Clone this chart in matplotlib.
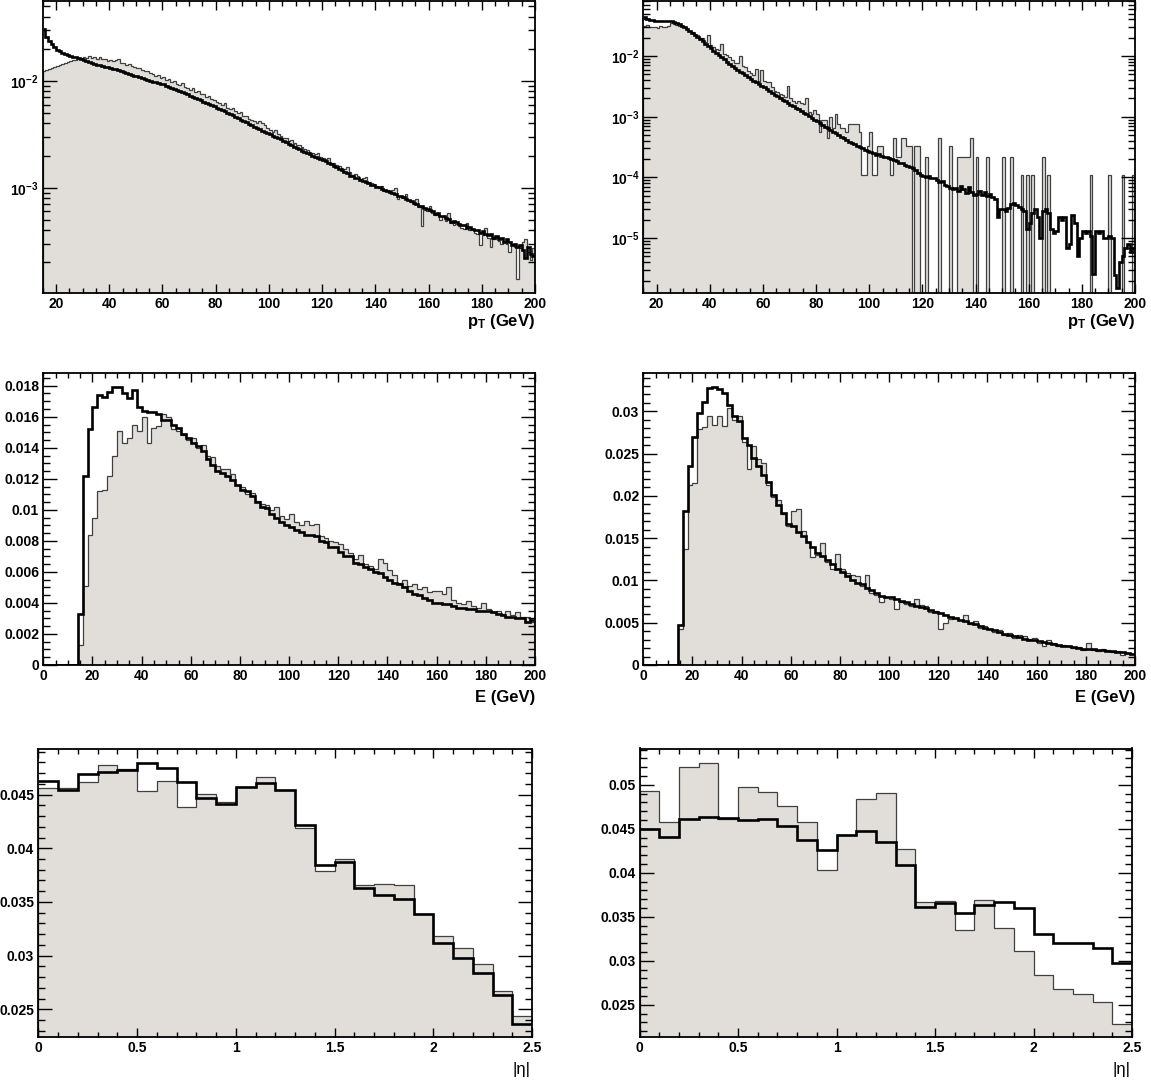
import numpy as np
import matplotlib
matplotlib.use('Agg')
import matplotlib.pyplot as plt
from matplotlib.ticker import MultipleLocator, LogLocator, FuncFormatter, NullFormatter

plt.rcParams['font.family'] = ['Liberation Sans', 'DejaVu Sans']
plt.rcParams['font.weight'] = 'bold'
plt.rcParams['mathtext.fontset'] = 'custom'
plt.rcParams['mathtext.rm'] = 'Liberation Sans:bold'
plt.rcParams['mathtext.bf'] = 'Liberation Sans:bold'
plt.rcParams['mathtext.it'] = 'Liberation Sans:bold'

# ---------------- data ----------------
PT_RANGE = (15, 200)      # 1 GeV bins
E_RANGE = (0, 200)        # 2 GeV bins
ETA_RANGE = (0.0, 2.5)    # 0.1 bins

# top-left, units of 1e-5
TL_THICK = [3050, 2600, 2380, 2200, 2070, 1950, 1890, 1830, 1790, 1750,
            1720, 1690, 1660, 1630, 1600, 1570, 1540, 1510, 1480, 1450,
            1420, 1400, 1380, 1360, 1340, 1320, 1300, 1280, 1260, 1240,
            1220, 1195, 1170, 1145, 1120, 1100, 1080, 1060, 1040, 1020,
            1000, 985, 970, 955, 940, 930, 905, 885, 860, 840,
            820, 800, 785, 765, 748, 730, 712, 693, 675, 657,
            640, 624, 608, 592, 576, 560, 546, 532, 518, 504,
            490, 476, 462, 448, 434, 420, 408, 396, 384, 372,
            360, 351, 342, 333, 324, 315, 307, 299, 291, 283,
            275, 267, 259, 251, 243, 235, 229, 223, 217, 211,
            205, 200, 195, 190, 185, 180, 176, 170, 166, 160,
            155, 151, 145, 140, 136, 130, 129, 124, 122, 118,
            115, 114, 110, 107, 105, 102, 101, 97, 96, 93,
            92, 89, 88, 84, 83, 82, 79, 76, 75, 72,
            71, 68, 67, 64, 63, 62, 61, 57, 58, 54,
            54, 52, 51, 48, 49, 48, 46, 45, 45, 42,
            43, 41, 40, 40, 38, 39, 37, 36, 37, 34,
            35, 33, 34, 31, 33, 31, 29, 30, 28, 29,
            26, 22, 28, 24, 23]
TL_THIN = [1240, 1270, 1300, 1330, 1360, 1390, 1420, 1450, 1480, 1510,
           1530, 1560, 1580, 1610, 1640, 1670, 1640, 1700, 1650, 1680,
           1620, 1660, 1600, 1620, 1540, 1580, 1520, 1560, 1620, 1480,
           1460, 1420, 1430, 1370, 1340, 1320, 1330, 1260, 1240, 1230,
           1180, 1170, 1110, 1130, 1060, 1080, 1030, 1040, 970, 990,
           940, 925, 950, 870, 860, 830, 850, 780, 800, 750,
           760, 700, 720, 670, 660, 640, 620, 600, 615, 560,
           550, 555, 520, 505, 510, 470, 465, 440, 435, 420,
           400, 420, 405, 385, 360, 350, 335, 345, 318, 305,
           290, 295, 272, 278, 262, 250, 252, 238, 232, 224,
           218, 212, 205, 210, 196, 188, 182, 190, 172, 170,
           162, 158, 152, 150, 155, 140, 132, 135, 128, 120,
           122, 126, 112, 110, 108, 104, 100, 103, 94, 96,
           90, 95, 99, 78, 84, 80, 87, 76, 74, 70,
           78, 66, 44, 62, 60, 68, 58, 55, 57, 50,
           54, 49, 58, 47, 45, 46, 44, 42, 41, 47,
           40, 41, 38, 37, 29, 36, 42, 34, 28, 33,
           34, 32, 30, 31, 30, 25, 30, 28, 14, 27,
           31, 33, 25, 21, 27]

# top-right, units of 1e-6
TR_THICK = [44500, 41500, 39500, 38600, 38200, 38000, 38000, 37900, 37900, 37800,
            37500, 36800, 35500, 33800, 31800, 29800, 27800, 25900, 24000, 22200,
            20500, 18900, 17400, 16000, 14700, 13500, 12300, 11300, 10400, 9600,
            8800, 8100, 7500, 6900, 6400, 5950, 5550, 5200, 4850, 4550,
            4250, 3950, 3700, 3450, 3250, 3050, 2850, 2650, 2480, 2320,
            2180, 2040, 1910, 1790, 1680, 1580, 1490, 1400, 1320, 1240,
            1160, 1090, 1020, 960, 900, 850, 790, 740, 690, 650,
            610, 570, 530, 500, 470, 440, 420, 390, 370, 350,
            335, 318, 300, 285, 270, 258, 248, 238, 240, 228,
            220, 215, 205, 200, 190, 185, 175, 170, 160, 152,
            148, 142, 135, 118, 108, 104, 100, 106, 96, 98,
            90, 84, 88, 76, 72, 66, 64, 68, 60, 72,
            65, 56, 70, 58, 52, 54, 60, 52, 58, 50,
            54, 48, 44, 22, 30, 30, 28, 31, 36, 38,
            35, 32, 30, 28, 14, 18, 26, 30, 22, 10,
            28, 30, 26, 14, 12, 13, 22, 20, 22, 7,
            8, 24, 18, 5, 10, 13, 12, 13, 11, 2.6,
            13, 12, 13, 10, 10, 11, 10, 2.5, 1.5, 4,
            5, 7, 8, 6, 7]
TR_THIN = [31000, 32000, 30000, 30500, 30000, 29500, 31500, 30500, 30000, 31000,
           34500, 33500, 32500, 31500, 31000, 30000, 28000, 26000, 24500, 23000,
           22500, 20000, 19500, 17000, 22000, 15000, 14000, 13000, 12500, 16000,
           11000, 10500, 9500, 8500, 7800, 7800, 10000, 6800, 6500, 5600,
           5200, 4800, 6200, 3400, 5800, 3900, 3800, 3800, 3100, 2700,
           2600, 2400, 2300, 2100, 3200, 2000, 1800, 1700, 1800, 1700,
           1600, 2000, 1200, 1100, 1300, 1100, 550, 880, 880, 440,
           990, 660, 1100, 770, 660, 660, 550, 770, 770, 770,
           770, 550, 110, 110, 330, 550, 110, 110, 330, 330,
           220, 220, 220, 110, 440, 220, 220, 440, 440, 330,
           330, 0, 330, 330, 0, 0, 220, 0, 0, 0,
           0, 440, 0, 0, 0, 330, 0, 0, 220, 220,
           220, 220, 220, 440, 0, 220, 0, 0, 0, 220,
           0, 0, 0, 0, 0, 220, 0, 0, 220, 0,
           0, 0, 110, 0, 110, 0, 110, 0, 0, 0,
           220, 0, 110, 0, 0, 0, 0, 0, 0, 0,
           0, 0, 0, 0, 0, 0, 0, 0, 110, 0,
           0, 0, 0, 0, 0, 110, 0, 0, 0, 0,
           110, 0, 0, 0, 110]

# middle row, units of 1e-3
ML_THICK = [0, 0, 0, 0, 0, 0, 0, 3.3, 12.2, 15.2,
            16.6, 17.4, 17.3, 17.6, 17.9, 17.9, 17.5, 17.2, 17.7, 16.6,
            16.4, 16.3, 16.3, 16.2, 15.8, 15.8, 15.5, 15.3, 14.9, 14.6,
            14.3, 14.1, 13.8, 13.3, 12.9, 12.5, 12.4, 12.2, 11.9, 11.6,
            11.3, 11.2, 10.9, 10.5, 10.2, 10.1, 9.7, 9.5, 9.2, 9.0,
            8.9, 8.7, 8.6, 8.4, 8.4, 8.3, 8.0, 7.9, 7.6, 7.6,
            7.3, 7.0, 7.0, 6.6, 6.5, 6.3, 6.2, 6.0, 5.9, 5.7,
            5.5, 5.3, 5.2, 5.0, 4.8, 4.6, 4.5, 4.3, 4.2, 4.0,
            4.0, 3.9, 3.9, 3.8, 3.7, 3.7, 3.6, 3.6, 3.5, 3.5,
            3.5, 3.4, 3.3, 3.2, 3.1, 3.1, 3.0, 3.0, 2.8, 2.9]
ML_THIN = [0, 0, 0, 0, 0, 0, 0, 1.3, 5.1, 8.4,
           9.5, 11.2, 11.3, 12.2, 13.5, 15.1, 14.3, 14.6, 15.5, 15.1,
           16.0, 14.3, 15.3, 15.4, 16.2, 16.0, 15.2, 15.1, 14.8, 14.5,
           14.6, 14.0, 14.2, 13.5, 13.4, 12.8, 12.6, 12.6, 12.3, 11.6,
           11.5, 11.0, 11.1, 10.6, 10.4, 10.3, 10.0, 10.2, 9.6, 9.4,
           9.7, 9.2, 9.0, 9.3, 9.0, 9.1, 8.3, 8.2, 8.0, 7.9,
           7.8, 7.5, 7.2, 6.8, 7.1, 6.5, 6.4, 6.2, 6.8, 6.6,
           6.1, 5.8, 5.3, 5.5, 5.1, 5.2, 4.9, 5.0, 4.7, 4.8,
           4.8, 4.6, 5.0, 4.2, 4.0, 3.9, 4.1, 3.8, 3.7, 4.0,
           3.6, 3.4, 3.5, 3.3, 3.5, 3.2, 3.4, 3.1, 3.1, 2.8]
MR_THICK = [0, 0, 0, 0, 0, 0, 0, 4.74, 18.2, 23.5,
            27.0, 29.8, 31.1, 32.8, 32.9, 32.6, 32.2, 30.7, 29.5, 28.8,
            26.8, 26.0, 24.5, 23.5, 22.5, 21.7, 20.1, 18.9, 18.0, 16.7,
            16.4, 15.7, 15.2, 14.6, 13.9, 13.3, 12.9, 12.4, 11.9, 11.3,
            11.0, 10.5, 10.1, 9.75, 9.6, 9.16, 8.9, 8.5, 8.2, 8.0,
            8.0, 7.8, 7.6, 7.4, 7.2, 7.0, 6.9, 6.7, 6.5, 6.3,
            6.1, 5.9, 5.7, 5.5, 5.3, 5.2, 5.0, 4.8, 4.6, 4.4,
            4.3, 4.1, 3.9, 3.7, 3.6, 3.4, 3.3, 3.1, 3.0, 2.9,
            2.8, 2.7, 2.6, 2.5, 2.4, 2.3, 2.2, 2.1, 2.0, 1.95,
            1.9, 1.85, 1.8, 1.75, 1.7, 1.6, 1.55, 1.5, 1.4, 1.35]
MR_THIN = [0, 0, 0, 0, 0, 0, 0, 4.2, 13.7, 21.3,
           21.5, 27.9, 28.2, 29.4, 28.4, 29.4, 28.3, 30.4, 29.0, 29.5,
           26.4, 23.2, 25.9, 24.4, 23.9, 21.3, 19.9, 19.5, 17.8, 16.4,
           18.2, 18.4, 15.8, 14.6, 12.8, 13.0, 14.4, 12.2, 11.4, 13.1,
           11.4, 10.9, 10.7, 10.5, 9.3, 10.7, 8.5, 8.3, 7.5, 8.0,
           7.8, 6.6, 7.4, 7.2, 7.0, 7.8, 7.1, 7.0, 6.3, 6.4,
           4.2, 5.0, 5.4, 5.5, 5.3, 5.9, 4.9, 5.2, 4.4, 4.6,
           4.3, 3.9, 4.1, 3.6, 3.8, 3.2, 3.5, 3.4, 3.1, 3.2,
           2.6, 2.3, 2.9, 2.6, 2.3, 2.4, 2.2, 2.0, 2.1, 1.8,
           2.6, 1.8, 1.7, 1.9, 1.8, 1.5, 1.6, 1.2, 1.4, 1.3]

# bottom row (|eta|)
BL_THICK = [0.04623, 0.04546, 0.04693, 0.04706, 0.0473, 0.04798, 0.04752, 0.04613,
            0.04466, 0.04408, 0.04567, 0.04604, 0.04546, 0.04221, 0.03847, 0.03871,
            0.03632, 0.03564, 0.03531, 0.03387, 0.0312, 0.02975, 0.02837, 0.02635, 0.02362]
BL_THIN = [0.04561, 0.04558, 0.04613, 0.04776, 0.04736, 0.04534, 0.04629, 0.04383,
           0.04509, 0.0443, 0.04567, 0.04666, 0.04546, 0.0419, 0.03791, 0.03899,
           0.0366, 0.03666, 0.0366, 0.03387, 0.03181, 0.03074, 0.02923, 0.02672, 0.02442]
BR_THICK = [0.045, 0.04406, 0.04612, 0.04631, 0.0462, 0.04594, 0.04609, 0.04534,
            0.04369, 0.04257, 0.04433, 0.04478, 0.0435, 0.04088, 0.03612, 0.03657,
            0.03545, 0.03631, 0.03669, 0.03601, 0.03309, 0.03197, 0.032, 0.03144, 0.02972]
BR_THIN = [0.04931, 0.04575, 0.05204, 0.05249, 0.0461, 0.04976, 0.0492, 0.04762,
           0.04579, 0.04032, 0.04425, 0.04833, 0.04908, 0.04275, 0.03669, 0.03684,
           0.03354, 0.03687, 0.03376, 0.03114, 0.02833, 0.02676, 0.0262, 0.02534, 0.02283]

# ---------------- styling ----------------
W, H = 1151, 1084
FILL = '#e1deda'
EDGE = '#404040'
fig = plt.figure(figsize=(W / 100, H / 100), dpi=100)


def rect(x0, x1, top, bot):
    return [x0 / W, 1 - bot / H, (x1 - x0) / W, (bot - top) / H]


def style(ax, xmaj, xmin, ymaj=None, ymin=None):
    ax.xaxis.set_major_locator(MultipleLocator(xmaj))
    ax.xaxis.set_minor_locator(MultipleLocator(xmin))
    if ymaj is not None:
        ax.yaxis.set_major_locator(MultipleLocator(ymaj))
        ax.yaxis.set_minor_locator(MultipleLocator(ymin))
        ax.yaxis.set_major_formatter(FuncFormatter(lambda v, p: '%g' % round(v, 6)))
    ax.xaxis.set_major_formatter(FuncFormatter(lambda v, p: '%g' % round(v, 6)))
    ax.tick_params(axis='both', which='both', direction='in', top=True, right=True,
                   labelsize=10, width=1.0)
    ax.tick_params(axis='x', which='major', length=6.5, pad=3)
    ax.tick_params(axis='x', which='minor', length=3.5)
    ax.tick_params(axis='y', which='major', length=10, pad=3)
    ax.tick_params(axis='y', which='minor', length=5)
    for lab in ax.get_xticklabels() + ax.get_yticklabels():
        lab.set_fontweight('bold')
    for s in ax.spines.values():
        s.set_linewidth(1.3)


def draw(ax, edges, thin, thick, floor):
    thin = np.asarray(thin, float)
    thick = np.asarray(thick, float)
    thin_p = np.where(thin > 0, thin, floor)
    thick_p = np.where(thick > 0, thick, floor)
    ax.stairs(thin_p, edges, baseline=floor, fill=True, color=FILL, lw=0)
    ax.stairs(thin_p, edges, baseline=floor, color=EDGE, lw=0.9)
    ax.stairs(thick_p, edges, baseline=None, color='black', lw=1.9)


def logfmt(v, p):
    e = int(round(np.log10(v)))
    return r'$\mathbf{10^{%d}}$' % e


pt_edges = np.arange(PT_RANGE[0], PT_RANGE[1] + 1, 1.0)
e_edges = np.arange(E_RANGE[0], E_RANGE[1] + 1, 2.0)
eta_edges = np.linspace(ETA_RANGE[0], ETA_RANGE[1], 26)

# top-left
ax = fig.add_axes(rect(42.7, 535, 1, 292.7))
draw(ax, pt_edges, np.array(TL_THIN) * 1e-5, np.array(TL_THICK) * 1e-5, 1e-8)
ax.set_yscale('log')
ax.set_xlim(*PT_RANGE)
ax.set_ylim(1.04e-4, 0.056)
style(ax, 20, 5)
ax.yaxis.set_major_locator(LogLocator(10))
ax.yaxis.set_minor_locator(LogLocator(10, subs=np.arange(2, 10)))
ax.yaxis.set_major_formatter(FuncFormatter(logfmt))
ax.yaxis.set_minor_formatter(NullFormatter())
fig.text(535 / W, 1 - 326 / H, r'$\mathbf{p_T}$ (GeV)', ha='right', va='baseline', fontsize=12, fontweight='bold')

# top-right
ax = fig.add_axes(rect(643.3, 1135, 1, 292.7))
draw(ax, pt_edges, np.array(TR_THIN) * 1e-6, np.array(TR_THICK) * 1e-6, 1e-9)
ax.set_yscale('log')
ax.set_xlim(*PT_RANGE)
ax.set_ylim(1.26e-6, 0.0807)
style(ax, 20, 5)
ax.yaxis.set_major_locator(LogLocator(10))
ax.yaxis.set_minor_locator(LogLocator(10, subs=np.arange(2, 10)))
ax.yaxis.set_major_formatter(FuncFormatter(logfmt))
ax.yaxis.set_minor_formatter(NullFormatter())
fig.text(1135 / W, 1 - 326 / H, r'$\mathbf{p_T}$ (GeV)', ha='right', va='baseline', fontsize=12, fontweight='bold')

# middle-left
ax = fig.add_axes(rect(43.3, 535, 373.3, 665))
draw(ax, e_edges, np.array(ML_THIN) * 1e-3, np.array(ML_THICK) * 1e-3, 0.0)
ax.set_xlim(*E_RANGE)
ax.set_ylim(0, 0.0188)
style(ax, 20, 5, 0.002, 0.0005)
fig.text(535 / W, 1 - 702 / H, 'E (GeV)', ha='right', va='baseline', fontsize=12, fontweight='bold')

# middle-right
ax = fig.add_axes(rect(643.3, 1135, 373.3, 665))
draw(ax, e_edges, np.array(MR_THIN) * 1e-3, np.array(MR_THICK) * 1e-3, 0.0)
ax.set_xlim(*E_RANGE)
ax.set_ylim(0, 0.0345)
style(ax, 20, 5, 0.005, 0.001)
fig.text(1135 / W, 1 - 702 / H, 'E (GeV)', ha='right', va='baseline', fontsize=12, fontweight='bold')

# bottom-left
ax = fig.add_axes(rect(38.3, 532, 748.5, 1037))
draw(ax, eta_edges, BL_THIN, BL_THICK, 0.0)
ax.set_xlim(*ETA_RANGE)
ax.set_ylim(0.02242, 0.04929)
style(ax, 0.5, 0.1, 0.005, 0.001)
fig.text(531 / W, 1 - 1074 / H, '|η|', ha='right', va='baseline', fontsize=12, fontweight='normal')

# bottom-right
ax = fig.add_axes(rect(639.5, 1132, 748.5, 1037))
draw(ax, eta_edges, BR_THIN, BR_THICK, 0.0)
ax.set_xlim(*ETA_RANGE)
ax.set_ylim(0.02133, 0.05412)
style(ax, 0.5, 0.1, 0.005, 0.001)
fig.text(1131 / W, 1 - 1074 / H, '|η|', ha='right', va='baseline', fontsize=12, fontweight='normal')

fig.savefig('out.png', dpi=100)
